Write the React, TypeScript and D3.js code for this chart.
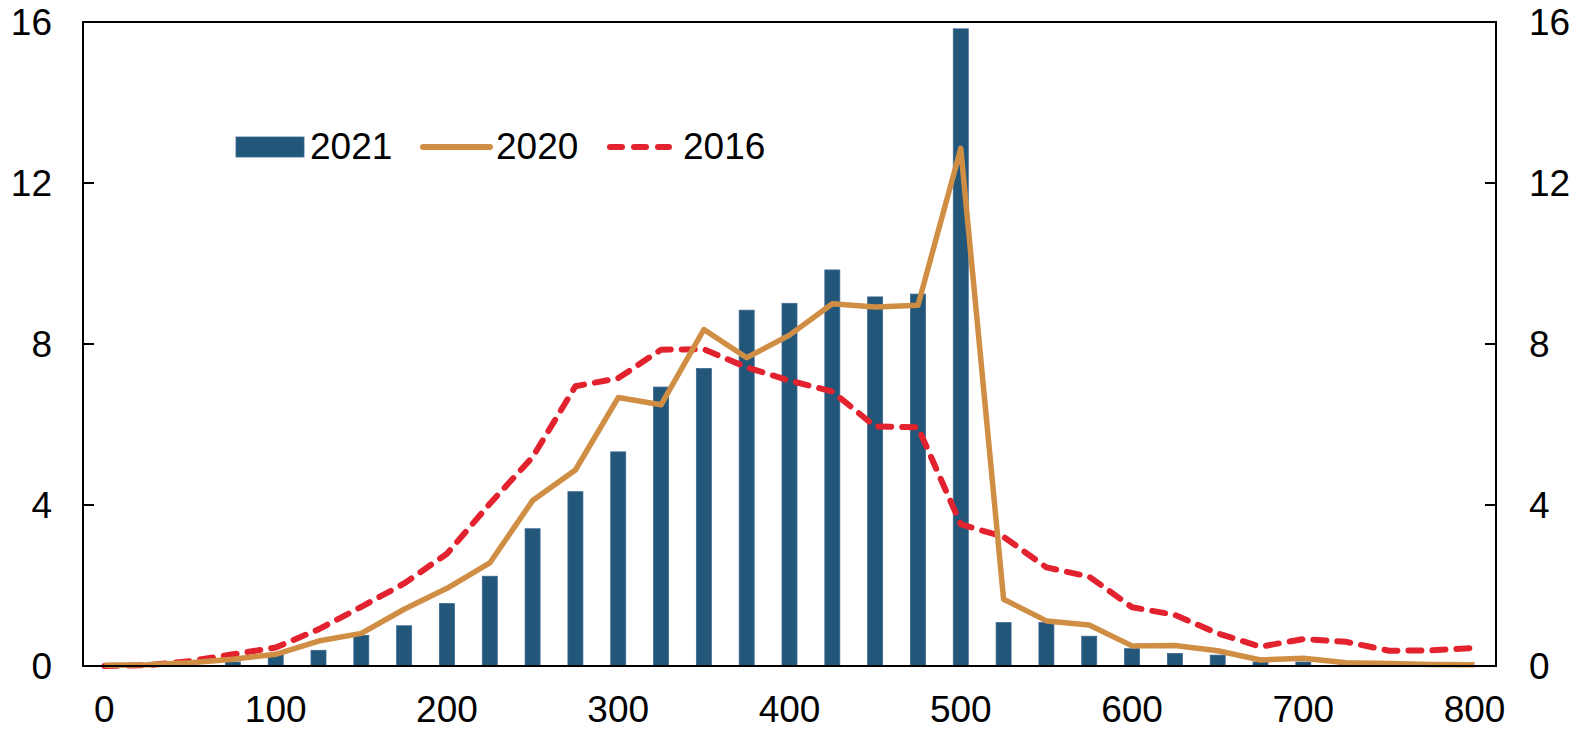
import React from "react";
import * as d3 from "d3";

const categories = [0, 25, 50, 75, 100, 125, 150, 175, 200, 225, 250, 275, 300, 325, 350, 375, 400, 425, 450, 475, 500, 525, 550, 575, 600, 625, 650, 675, 700, 725, 750, 775, 800];
const xTickLabels = [0, 100, 200, 300, 400, 500, 600, 700, 800];
const yTicks = [0, 4, 8, 12, 16];

const values2021 = [0, 0, 0.03, 0.1, 0.28, 0.39, 0.76, 1.0, 1.55, 2.23, 3.41, 4.33, 5.32, 6.93, 7.39, 8.84, 9.01, 9.84, 9.17, 9.24, 15.83, 1.08, 1.08, 0.74, 0.43, 0.31, 0.27, 0.1, 0.1, 0.03, 0.02, 0.01, 0.01];
const values2020 = [0.02, 0.03, 0.08, 0.17, 0.29, 0.62, 0.81, 1.41, 1.93, 2.56, 4.11, 4.87, 6.67, 6.49, 8.36, 7.66, 8.22, 9.0, 8.92, 8.96, 12.86, 1.66, 1.12, 1.02, 0.5, 0.51, 0.38, 0.15, 0.19, 0.08, 0.06, 0.04, 0.03];
const values2016 = [0.0, 0.02, 0.12, 0.29, 0.46, 0.91, 1.47, 2.05, 2.79, 4.03, 5.19, 6.95, 7.15, 7.86, 7.87, 7.42, 7.09, 6.82, 5.95, 5.93, 3.52, 3.21, 2.45, 2.22, 1.46, 1.27, 0.81, 0.48, 0.67, 0.6, 0.38, 0.39, 0.45];

const seriesNames = ["2021", "2020", "2016"];

const W = 1582;
const H = 729;
const left = 83;
const right = 1496;
const top = 22;
const bottom = 666;

const BLUE = "#22577a";
const ORANGE = "#d08e45";
const RED = "#e2232f";
const FONT = "Arial, 'Liberation Sans', sans-serif";

export default function App() {
  const x = d3.scaleBand<number>().domain(categories).range([left, right]).padding(0);
  const cx = (v: number) => (x(v) as number) + x.bandwidth() / 2;
  const y = d3.scaleLinear().domain([0, 16]).range([bottom, top]);
  const barW = x.bandwidth() * 0.35;

  const line = d3
    .line<number>()
    .x((_, i) => cx(categories[i]))
    .y((d) => y(d));

  return (
    <svg
      width={W}
      height={H}
      style={{ position: "fixed", left: 0, top: 0, background: "#fff" }}
      fontFamily={FONT}
    >
      {/* bars */}
      {values2021.map((v, i) => (
        <rect
          key={i}
          x={cx(categories[i]) - barW / 2}
          y={y(v)}
          width={barW}
          height={Math.max(0, bottom - y(v))}
          fill={BLUE}
          stroke="#3b6690"
          strokeWidth={0.8}
        />
      ))}
      {/* 2016 dashed */}
      <path
        d={line(values2016) || ""}
        fill="none"
        stroke={RED}
        strokeWidth={6}
        strokeDasharray="13 11"
        strokeLinecap="round"
        strokeLinejoin="round"
      />
      {/* 2020 line */}
      <path
        d={line(values2020) || ""}
        fill="none"
        stroke={ORANGE}
        strokeWidth={5.5}
        strokeLinejoin="round"
      />
      {/* frame */}
      <rect x={left} y={top} width={right - left} height={bottom - top} fill="none" stroke="#000" strokeWidth={2} />
      {/* y ticks */}
      {yTicks.map((t) => (
        <g key={t}>
          <line x1={left} x2={left + 11} y1={y(t)} y2={y(t)} stroke="#000" strokeWidth={2} />
          <line x1={right - 11} x2={right} y1={y(t)} y2={y(t)} stroke="#000" strokeWidth={2} />
          <text x={52} y={y(t)} dy="0.36em" textAnchor="end" fontSize={37} fill="#000">
            {t}
          </text>
          <text x={1529} y={y(t)} dy="0.36em" textAnchor="start" fontSize={37} fill="#000">
            {t}
          </text>
        </g>
      ))}
      {/* x labels */}
      {xTickLabels.map((t) => (
        <text key={t} x={cx(t)} y={722} textAnchor="middle" fontSize={37} fill="#000">
          {t}
        </text>
      ))}
      {/* legend */}
      <g>
        <rect x={236} y={137} width={68} height={20} fill={BLUE} stroke="#3b6690" strokeWidth={0.8} />
        <text x={310} y={159} fontSize={37} fill="#000">{seriesNames[0]}</text>
        <line x1={423} x2={490} y1={147} y2={147} stroke={ORANGE} strokeWidth={6} strokeLinecap="round" />
        <text x={496} y={159} fontSize={37} fill="#000">{seriesNames[1]}</text>
        <line x1={610} x2={669} y1={147} y2={147} stroke={RED} strokeWidth={6} strokeDasharray="12 12" strokeLinecap="round" />
        <text x={683} y={159} fontSize={37} fill="#000">{seriesNames[2]}</text>
      </g>
    </svg>
  );
}
